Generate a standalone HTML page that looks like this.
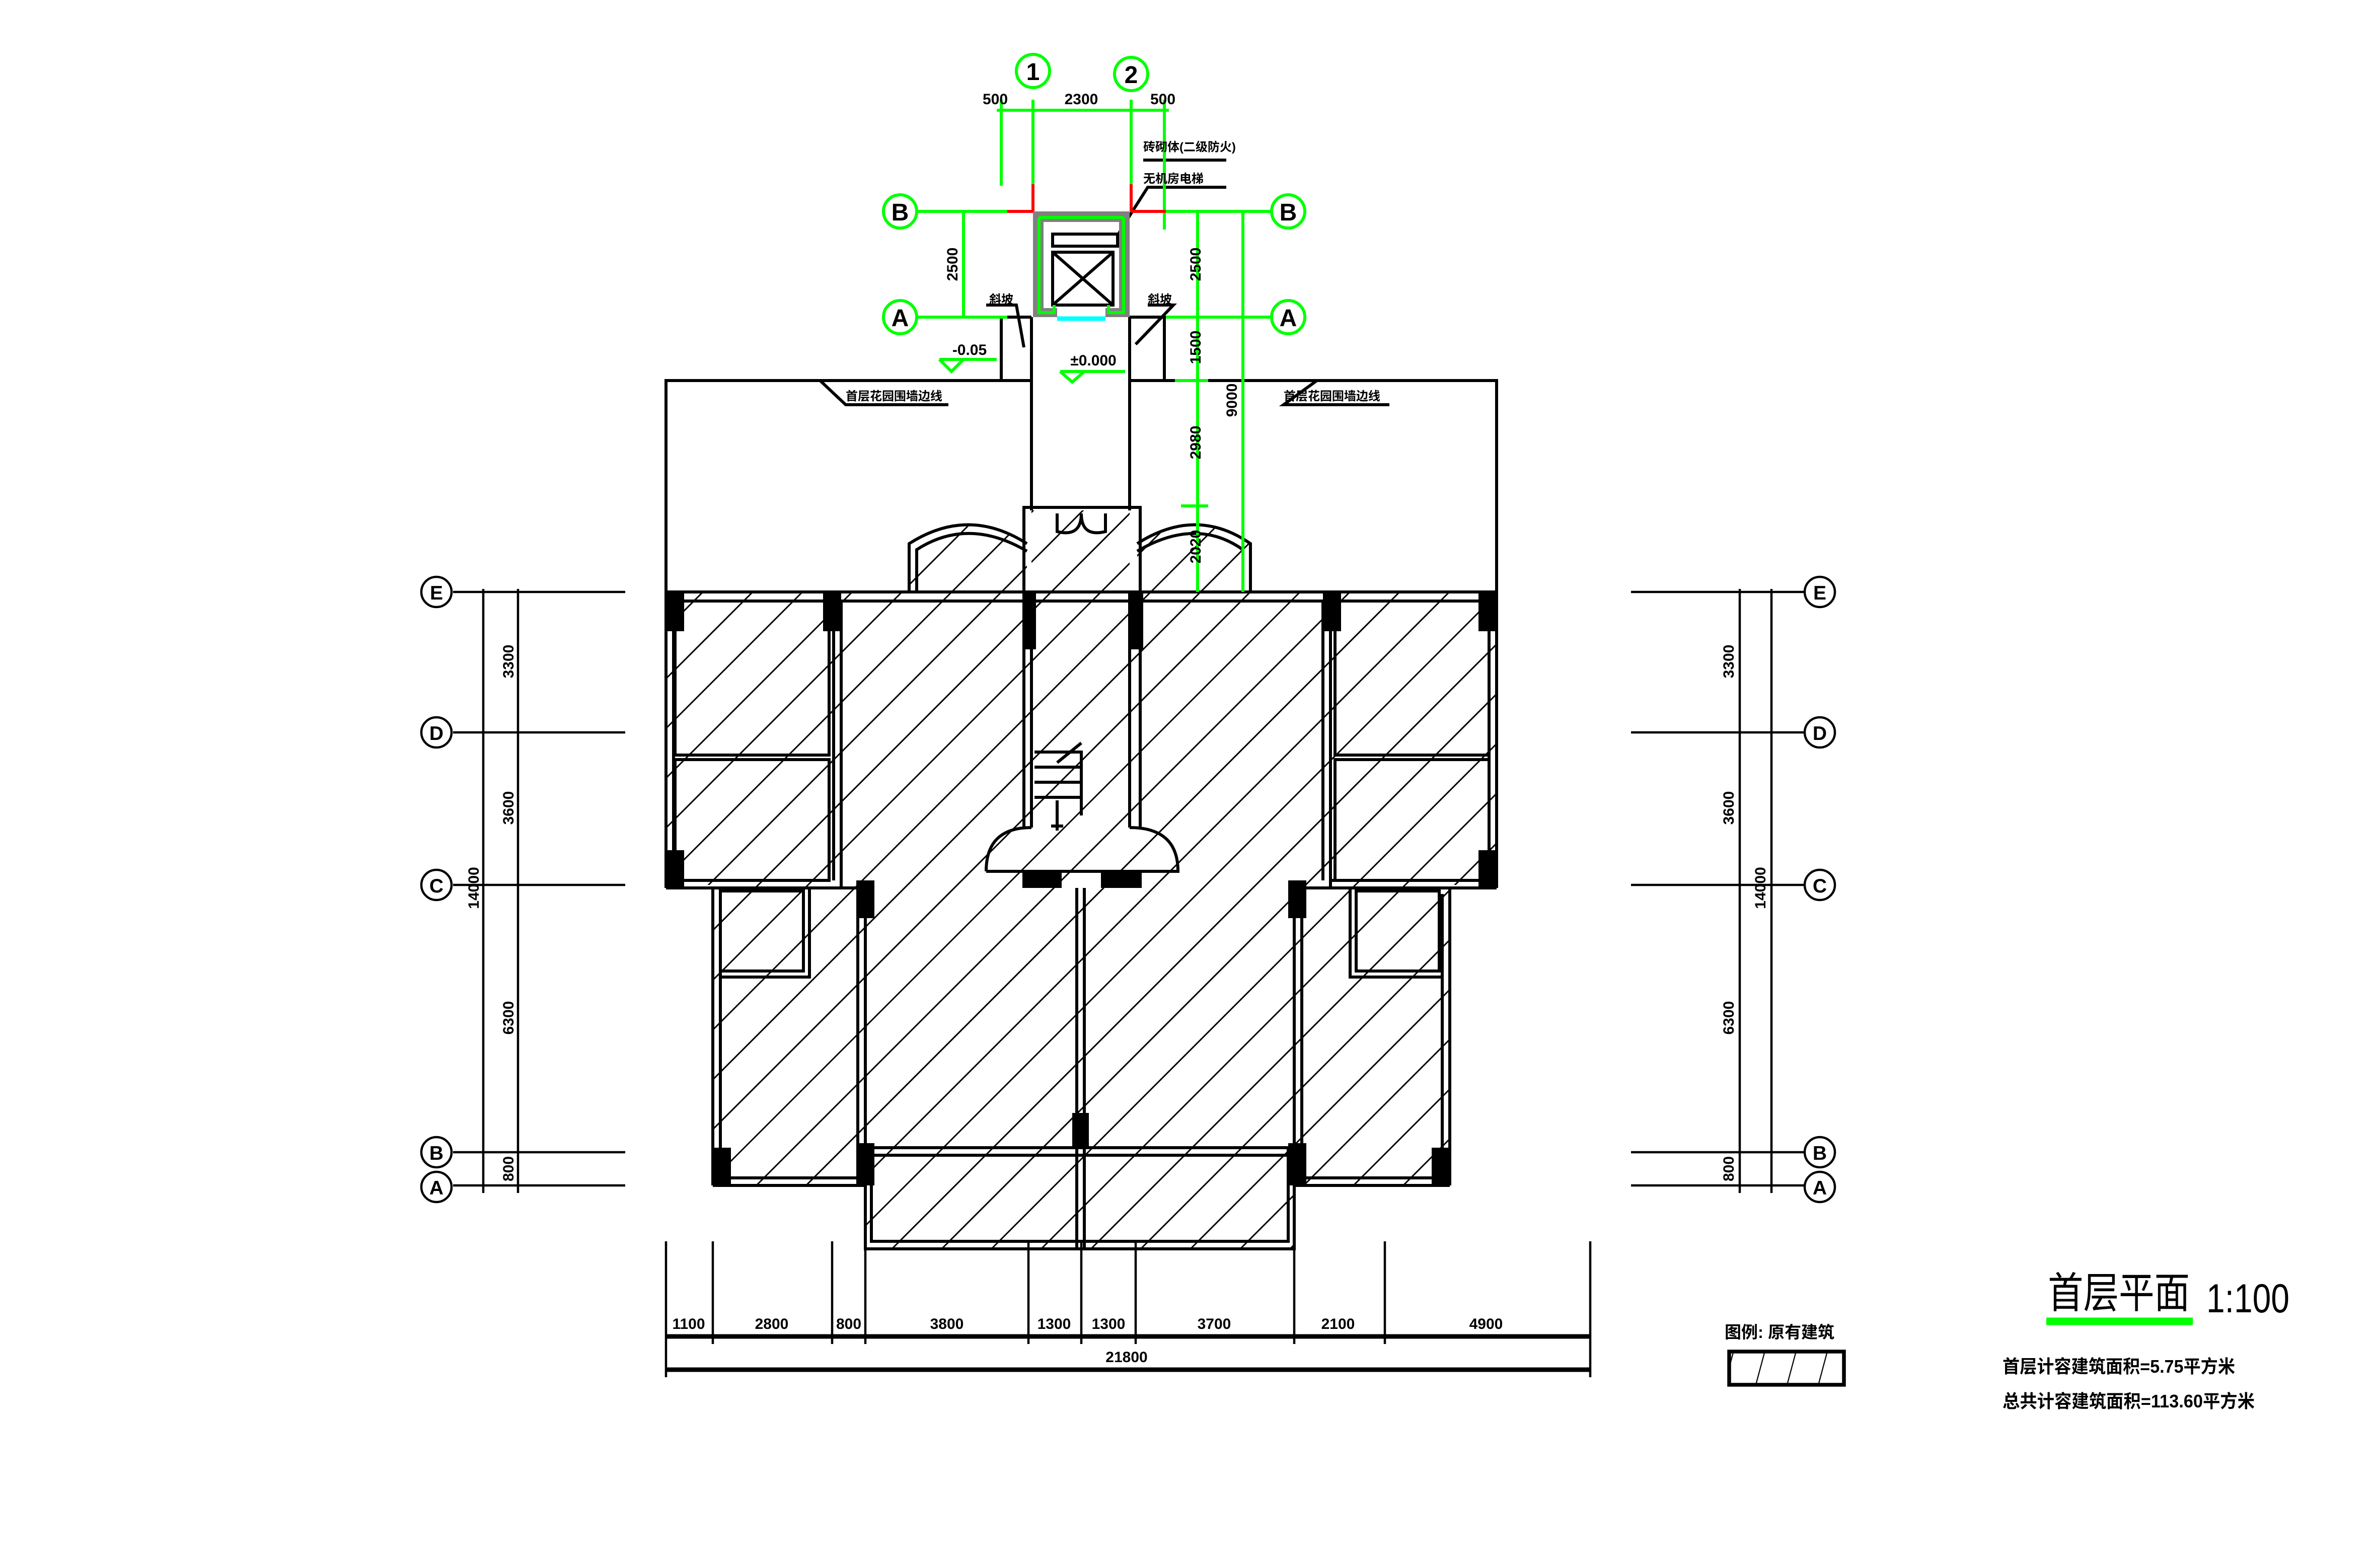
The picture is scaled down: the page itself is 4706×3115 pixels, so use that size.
<!DOCTYPE html>
<html><head><meta charset="utf-8"><style>
html,body{margin:0;padding:0;background:#fff;}
svg{display:block;}
text{font-family:"Liberation Sans","Noto Sans CJK SC",sans-serif;font-weight:bold;fill:#000;}
</style></head><body>
<svg width="4706" height="3115" viewBox="0 0 1568.67 1038.33" xmlns="http://www.w3.org/2000/svg">
<defs>
<pattern id="h" width="23.3" height="23.3" patternUnits="userSpaceOnUse" patternTransform="rotate(-45)">
<line x1="0" y1="0" x2="23.3" y2="0" stroke="#000" stroke-width="2"/>
</pattern>
<pattern id="h2" width="20" height="20" patternUnits="userSpaceOnUse" patternTransform="rotate(-75)">
<line x1="0" y1="0" x2="20" y2="0" stroke="#000" stroke-width="1.5"/>
</pattern>
</defs>
<rect width="1568.67" height="1038.33" fill="#fff"/>

<path d="M441 392 H991 V586 H960 V785 H857 V827 H573 V785 H472 V586 H441 Z" fill="url(#h)"/>
<rect x="683" y="338" width="65" height="56" fill="url(#h)"/>
<path d="M602 392 V360 Q641 335 680 360 V392 Z" fill="url(#h)"/>
<path d="M753 392 V360 Q792 335 828 360 V392 Z" fill="url(#h)"/>

<g fill="none" stroke="#000" stroke-width="2">
<polyline points="441,392 441,252 683,252"/>
<polyline points="748,252 991,252 991,392"/>
<line x1="683" y1="210" x2="683" y2="338"/>
<line x1="748" y1="210" x2="748" y2="338"/>
<polyline points="663,252 663,210 683,210"/>
<polyline points="771,252 771,210 748,210"/>
<rect x="678" y="336" width="77" height="56"/>
<path d="M683 392 V548 M748 392 V548 M678 392 V548 M755 392 V548"/>
<path d="M700 340 V352 Q716 356 716 340 M732 340 V352 Q716 356 716 340"/>
<path d="M602 392 V360 Q641 335 680 360 M607 392 V364 Q641 342 680 365"/>
<path d="M753 360 Q792 335 828 360 V392 M753 365 Q792 342 823 364 V392"/>
<path d="M441 392 H991 M446 398 H986 M441 392 V588 M446 392 V583 M991 392 V588 M986 392 V583"/>
<path d="M441 588 H567 M446 583 H549 M865 588 H991 M881 583 H986"/>
<path d="M472 588 V785 M477 592 V780 M960 588 V785 M955 592 V780"/>
<path d="M472 785 H573 M477 780 H568 M857 785 H960 M862 780 H955"/>
<path d="M573 588 V827 H857 V588 M577 760 V822 H853 V760 M577 760 H853 M577 765 H853"/>
<path d="M568 588 V780 M862 588 V780"/>
<path d="M713 588 V827 M718 588 V827"/>
<rect x="447" y="398" width="102" height="102"/>
<rect x="447" y="503" width="102" height="80"/>
<path d="M552 398 V583 M557 398 V588 M876 398 V583 M881 398 V588"/>
<rect x="884" y="398" width="102" height="102"/>
<rect x="884" y="503" width="102" height="80"/>
<rect x="477" y="590" width="55" height="53"/>
<path d="M536 588 V647 H477"/>
<rect x="898" y="590" width="55" height="53"/>
<path d="M894 588 V647 H955"/>
<path d="M653 577 Q653 548 683 548 M748 548 Q780 548 780 577 H653"/>
<path d="M685 498 H716 V540 M685 508 H716 M685 518 H716 M685 528 H716 M716 492 L700 505 M700 550 V530 M696 547 H704"/>
<rect x="697" y="155" width="43" height="8"/>
<rect x="697" y="167" width="40" height="35"/>
<line x1="697" y1="167" x2="737" y2="202"/><line x1="737" y1="167" x2="697" y2="202"/>
<path d="M740 156 L746 146 L760 124 H812"/>
<path d="M757 106 H812"/>
<path d="M653 202 H673 L678 230 M760 202 H777 L752 228"/>
<path d="M543 252 L560 268 H628 M872 252 L850 268 H920"/>
</g>
<g fill="#000">
<rect x="441" y="392" width="12" height="26"/><rect x="545" y="392" width="12" height="26"/>
<rect x="677" y="392" width="9" height="38"/><rect x="748" y="392" width="9" height="38"/>
<rect x="876" y="392" width="12" height="26"/><rect x="979" y="392" width="12" height="26"/>
<rect x="441" y="563" width="12" height="25"/><rect x="979" y="563" width="12" height="25"/>
<rect x="567" y="583" width="12" height="25"/><rect x="853" y="583" width="12" height="25"/>
<rect x="677" y="578" width="26" height="10"/><rect x="729" y="578" width="27" height="10"/>
<rect x="472" y="760" width="12" height="25"/><rect x="567" y="757" width="12" height="28"/>
<rect x="710" y="737" width="11" height="24"/><rect x="853" y="757" width="12" height="28"/>
<rect x="948" y="760" width="12" height="25"/>
</g>
<path d="M684 140 H748 V210 H732 V204 H741 V147 H691 V204 H700 V210 H684 Z" fill="#808080"/>
<path d="M688 144 V207 H698 V202 M744 144 V207 H734 V202 M688 144 H744" stroke="#0f0" stroke-width="2" fill="none"/>
<line x1="700" y1="211" x2="732" y2="211" stroke="#0ff" stroke-width="3"/>

<g stroke="#0f0" stroke-width="2" fill="none">
<circle cx="684" cy="47" r="11"/><circle cx="749" cy="49" r="11"/>
<line x1="663" y1="66" x2="663" y2="123"/><line x1="684" y1="66" x2="684" y2="122"/>
<line x1="749" y1="66" x2="749" y2="122"/><line x1="771" y1="66" x2="771" y2="152"/>
<line x1="660" y1="73" x2="774" y2="73"/>
<circle cx="596" cy="140" r="11"/><circle cx="853" cy="140" r="11"/>
<circle cx="596" cy="210" r="11"/><circle cx="853" cy="210" r="11"/>
<line x1="607" y1="140" x2="667" y2="140"/><line x1="772" y1="140" x2="842" y2="140"/>
<line x1="607" y1="210" x2="667" y2="210"/><line x1="772" y1="210" x2="842" y2="210"/>
<line x1="638" y1="140" x2="638" y2="210"/>
<line x1="793" y1="140" x2="793" y2="392"/>
<line x1="823" y1="140" x2="823" y2="392"/>
<line x1="778" y1="252" x2="800" y2="252"/>
<line x1="782" y1="335" x2="800" y2="335"/>
<path d="M622 238 H660 M622 238 L630 246 L638 238"/>
<path d="M702 246 H745 M702 246 L710 253 L718 246"/>
<line x1="1355" y1="875" x2="1452" y2="875" stroke-width="5"/>
</g>
<g stroke="#f00" stroke-width="2">
<line x1="684" y1="122" x2="684" y2="140"/><line x1="749" y1="122" x2="749" y2="140"/>
<line x1="667" y1="140" x2="684" y2="140"/><line x1="749" y1="140" x2="772" y2="140"/>
</g>
<g font-size="16" text-anchor="middle">
<text x="684" y="53">1</text><text x="749" y="55">2</text>
<text x="596" y="146">B</text><text x="853" y="146">B</text>
<text x="596" y="216">A</text><text x="853" y="216">A</text>
</g>
<g font-size="10" text-anchor="middle">
<text x="659" y="69">500</text><text x="716" y="69">2300</text><text x="770" y="69">500</text>
<text transform="translate(634,175) rotate(-90)">2500</text>
<text transform="translate(795,175) rotate(-90)">2500</text>
<text transform="translate(795,230) rotate(-90)">1500</text>
<text transform="translate(795,293) rotate(-90)">2980</text>
<text transform="translate(795,362) rotate(-90)">2020</text>
<text transform="translate(819,265) rotate(-90)">9000</text>
<text x="642" y="235">-0.05</text><text x="724" y="242">±0.000</text>
</g>
<g font-size="8">
<text x="757" y="100">砖砌体(二级防火)</text><text x="757" y="121">无机房电梯</text>
<text x="655" y="201">斜坡</text><text x="760" y="201">斜坡</text>
<text x="560" y="265">首层花园围墙边线</text><text x="850" y="265">首层花园围墙边线</text>
</g>

<g stroke="#000" stroke-width="1.5" fill="none">
<path d="M300 392 H414 M300 485 H414 M300 586 H414 M300 763 H414 M300 785 H414"/>
<path d="M320 390 V790 M343 390 V790"/>
<path d="M1080 392 H1195 M1080 485 H1195 M1080 586 H1195 M1080 763 H1195 M1080 785 H1195"/>
<path d="M1152 390 V790 M1173 390 V790"/>
<circle cx="289" cy="392" r="10"/><circle cx="289" cy="485" r="10"/><circle cx="289" cy="586" r="10"/><circle cx="289" cy="763" r="10"/><circle cx="289" cy="786" r="10"/>
<circle cx="1205" cy="392" r="10"/><circle cx="1205" cy="485" r="10"/><circle cx="1205" cy="586" r="10"/><circle cx="1205" cy="763" r="10"/><circle cx="1205" cy="786" r="10"/>
</g>
<g font-size="13" text-anchor="middle" font-family="Liberation Serif">
<text x="289" y="397">E</text><text x="289" y="490">D</text><text x="289" y="591">C</text><text x="289" y="768">B</text><text x="289" y="791">A</text>
<text x="1205" y="397">E</text><text x="1205" y="490">D</text><text x="1205" y="591">C</text><text x="1205" y="768">B</text><text x="1205" y="791">A</text>
</g>
<g font-size="10" text-anchor="middle">
<text transform="translate(340,438) rotate(-90)">3300</text>
<text transform="translate(340,535) rotate(-90)">3600</text>
<text transform="translate(340,674) rotate(-90)">6300</text>
<text transform="translate(340,774) rotate(-90)">800</text>
<text transform="translate(317,588) rotate(-90)">14000</text>
<text transform="translate(1148,438) rotate(-90)">3300</text>
<text transform="translate(1148,535) rotate(-90)">3600</text>
<text transform="translate(1148,674) rotate(-90)">6300</text>
<text transform="translate(1148,774) rotate(-90)">800</text>
<text transform="translate(1169,588) rotate(-90)">14000</text>
</g>

<g stroke="#000" stroke-width="1.5">
<path d="M441 822 V912 M472 822 V890 M551 822 V890 M573 822 V890 M681 822 V890 M716 822 V890 M752 822 V890 M857 822 V890 M917 822 V890 M1053 822 V912"/>
<line x1="441" y1="885" x2="1053" y2="885" stroke-width="3"/>
<line x1="441" y1="907" x2="1053" y2="907" stroke-width="3"/>
</g>
<g font-size="10" text-anchor="middle">
<text x="456" y="880">1100</text><text x="511" y="880">2800</text><text x="562" y="880">800</text>
<text x="627" y="880">3800</text><text x="698" y="880">1300</text><text x="734" y="880">1300</text>
<text x="804" y="880">3700</text><text x="886" y="880">2100</text><text x="984" y="880">4900</text>
<text x="746" y="902">21800</text>
</g>
<text x="1142" y="886" font-size="11">图例: 原有建筑</text>
<rect x="1145" y="895" width="76" height="22" fill="url(#h2)" stroke="#000" stroke-width="2.5"/>
<text x="1356" y="866" font-size="28" style="font-weight:normal" textLength="94" lengthAdjust="spacingAndGlyphs">首层平面</text>
<text x="1461" y="869" font-size="27" style="font-weight:normal" textLength="55" lengthAdjust="spacingAndGlyphs">1:100</text>
<text x="1326" y="909" font-size="12" textLength="154" lengthAdjust="spacingAndGlyphs">首层计容建筑面积=5.75平方米</text>
<text x="1326" y="932" font-size="12" textLength="167" lengthAdjust="spacingAndGlyphs">总共计容建筑面积=113.60平方米</text>
</svg>
</body></html>
